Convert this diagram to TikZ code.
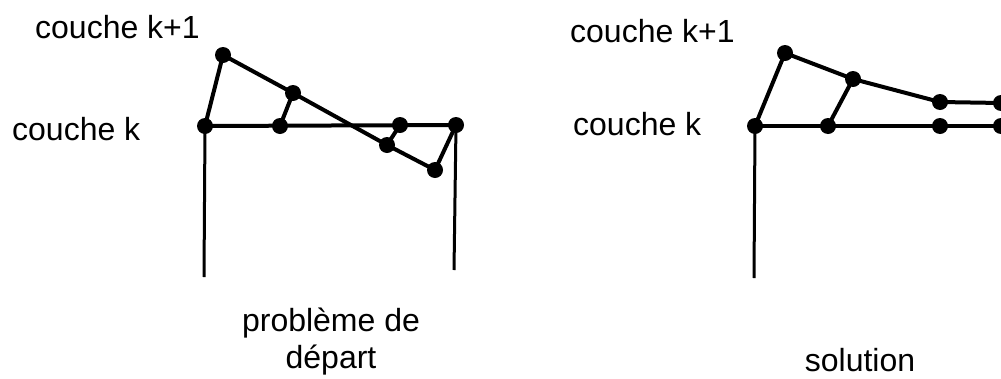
\documentclass[tikz,border=0pt]{standalone}
\usepackage{fontspec}
\setmainfont{Liberation Sans}
\usetikzlibrary{positioning}

\begin{document}
\begin{tikzpicture}[
    x=1pt,y=-1pt,
    dot/.style={circle,fill=black,inner sep=0pt,minimum size=16pt},
    edge/.style={line width=4pt,line cap=round},
    wall/.style={line width=3pt},
    label/.style={font=\fontsize{32}{37}\selectfont,inner sep=0pt}
  ]
    \useasboundingbox (0,0) rectangle (1001,378);

    % labels
    \node[label,anchor=base west] (kup1) at (35,38) {couche k+1};
    \node[label,anchor=base west] (k1) at (12,140) {couche k};
    \node[label,anchor=base west] (kup2) at (570,42) {couche k+1};
    \node[label,anchor=base west] (k2) at (573,135) {couche k};
    \node[label,align=center,anchor=base] (start) at (331,368) {problème de\\départ};
    \node[label,anchor=base] (sol) at (860,371) {solution};

    % left: starting problem
    \node[dot] (a0) at (205,126) {};
    \node[dot] (a1) at (280,126) {};
    \node[dot] (a2) at (400,125) {};
    \node[dot] (a3) at (456,125) {};
    \node[dot] (b0) at (223,55) {};
    \node[dot] (b1) at (293,93) {};
    \node[dot] (b2) at (387,145) {};
    \node[dot] (b3) at (435,170) {};
    \coordinate (la) at (204,277);
    \coordinate (lb) at (454,270);

    \draw[wall] (a0.center) -- (la);
    \draw[wall] (a3.center) -- (lb);
    \draw[edge] (a0.center) -- (a3.center);
    \draw[edge] (a0.center) -- (b0.center) -- (b1.center) -- (b2.center) -- (b3.center) -- (a3.center);
    \draw[edge] (b1.center) -- (a1.center);
    \draw[edge] (b2.center) -- (a2.center);

    % right: solution
    \node[dot] (c0) at (755,126) {};
    \node[dot] (c1) at (828,126) {};
    \node[dot] (c2) at (940,126) {};
    \node[dot] (c3) at (1001,126) {};
    \node[dot] (d0) at (785,53) {};
    \node[dot] (d1) at (853,79) {};
    \node[dot] (d2) at (940,102) {};
    \node[dot] (d3) at (1001,103) {};
    \coordinate (rc) at (754,278);

    \draw[wall] (c0.center) -- (rc);
    \draw[edge] (c0.center) -- (c3.center);
    \draw[edge] (c0.center) -- (d0.center) -- (d1.center) -- (d2.center) -- (d3.center);
    \draw[edge] (d1.center) -- (c1.center);
  \end{tikzpicture}
\end{document}
